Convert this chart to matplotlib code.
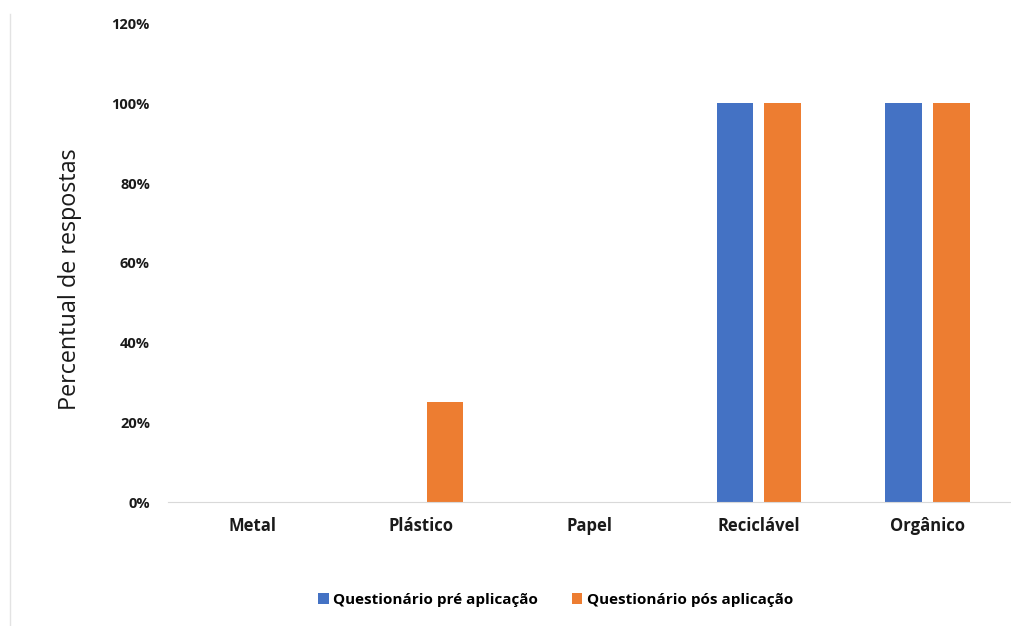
import matplotlib.pyplot as plt
import numpy as np
from matplotlib.lines import Line2D
from matplotlib.ticker import PercentFormatter

categorias = ["Metal", "Plástico", "Papel", "Reciclável", "Orgânico"]
pre_aplicacao = [0, 0, 0, 100, 100]
pos_aplicacao = [0, 25, 0, 100, 100]
series = ["Questionário pré aplicação", "Questionário pós aplicação"]

plt.rcParams["font.family"] = ["Open Sans", "DejaVu Sans"]

fig = plt.figure(figsize=(10.12, 6.26), dpi=100)
ax = fig.add_axes([0.166, 0.198, 0.834, 0.764])

x = np.arange(len(categorias))
largura = 0.218
desloc = 0.141
ax.bar(x - desloc, pre_aplicacao, largura, color="#4472C4", label=series[0])
ax.bar(x + desloc, pos_aplicacao, largura, color="#ED7D31", label=series[1])

ax.set_xlim(-0.5, len(categorias) - 0.5)
ax.set_ylim(0, 120)
ax.set_yticks(range(0, 121, 20))
ax.yaxis.set_major_formatter(PercentFormatter(decimals=0))
ax.set_xticks(x)
ax.set_xticklabels(categorias, fontsize=12, fontweight="bold")
for lbl in ax.get_yticklabels():
    lbl.set_fontsize(10.5)
    lbl.set_fontweight("bold")
ax.tick_params(axis="both", length=0, colors="#1a1a1a")
ax.tick_params(axis="y", pad=13)
ax.tick_params(axis="x", pad=11)

for s in ["top", "right", "left"]:
    ax.spines[s].set_visible(False)
ax.spines["bottom"].set_color("#d9d9d9")

fig.text(0.069, 0.554, "Percentual de respostas", rotation=90, fontsize=16.8,
         ha="center", va="center", color="#1a1a1a")

fig.legend(loc="center", bbox_to_anchor=(0.549, 0.042), ncol=2, frameon=False,
           prop={"size": 11, "weight": "bold"}, handlelength=0.7, handleheight=0.7,
           handletextpad=0.3, columnspacing=2.2)

fig.add_artist(Line2D([0.0099, 0.0099], [0.0, 0.978], color="#e3e3e3", lw=1))

fig.savefig("out.png", dpi=100)
